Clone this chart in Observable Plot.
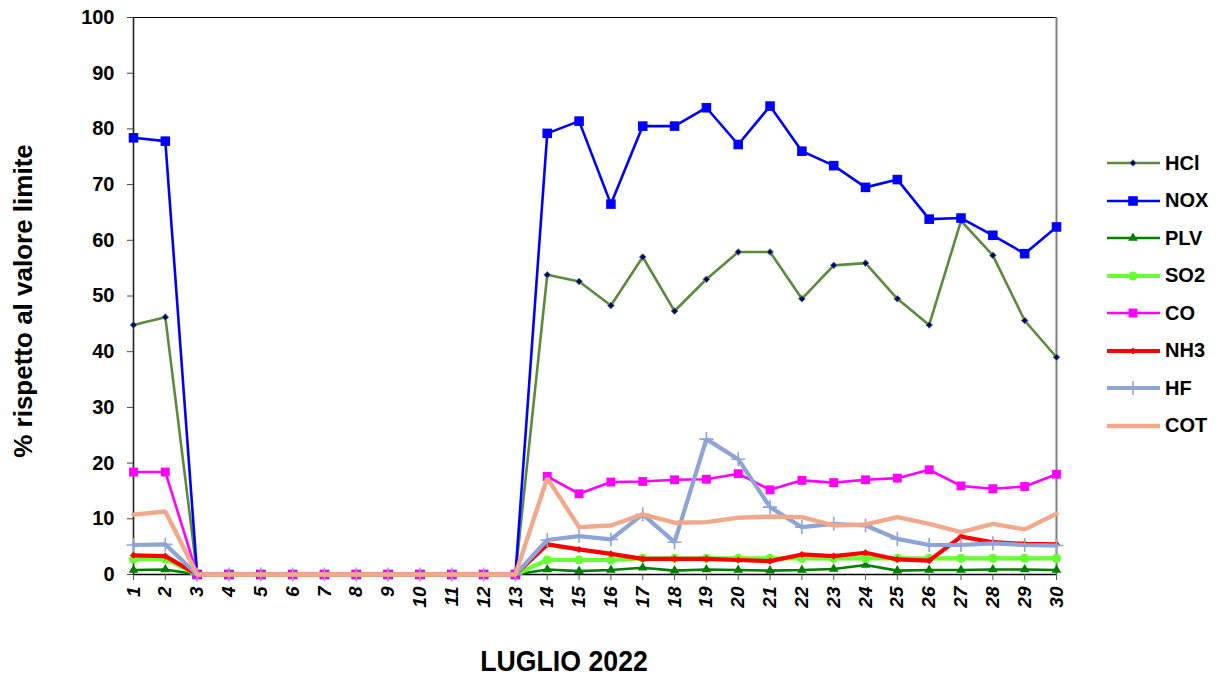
<!DOCTYPE html>
<html>
<head>
<meta charset="utf-8">
<script src="https://cdn.jsdelivr.net/npm/d3@7"></script>
<script src="https://cdn.jsdelivr.net/npm/@observablehq/plot@0.6"></script>
<style>
  html, body { margin: 0; padding: 0; background: #fff; }
  body { font-family: Arial, "Liberation Sans", sans-serif; }
  #wrap { position: relative; width: 1221px; height: 676px; overflow: hidden; }
  #chart { position: absolute; left: 0; top: 0; }
  #chart svg [aria-label="y-axis tick label"] text { font: bold 20px Arial, "Liberation Sans", sans-serif; fill: #000; }
  #chart svg [aria-label="x-axis tick label"] text { font: italic bold 19px Arial, "Liberation Sans", sans-serif; fill: #000; }
  #ytitle { position: absolute; left: 22.5px; top: 301px; transform: translate(-50%, -50%) rotate(-90deg) scaleX(1.04); white-space: nowrap;
            font: bold 25px Arial, "Liberation Sans", sans-serif; color: #000; }
  #xtitle { position: absolute; left: 564px; top: 661px; transform: translate(-50%, -50%) scaleX(0.89); white-space: nowrap;
            font: bold 30px Arial, "Liberation Sans", sans-serif; color: #000; }
  #legend { position: absolute; left: 1107px; top: 144.5px; }
  .lrow { display: flex; align-items: center; height: 37.5px; }
  .lrow svg { display: block; }
  .lrow span { margin-left: 5px; font: bold 20px Arial, "Liberation Sans", sans-serif; color: #000; }
</style>
</head>
<body>
<div id="wrap">
  <div id="chart"></div>
  <div id="ytitle">% rispetto al valore limite</div>
  <div id="xtitle">LUGLIO 2022</div>
  <div id="legend"></div>
</div>
<script>
// ---- data ----
const days = [1,2,3,4,5,6,7,8,9,10,11,12,13,14,15,16,17,18,19,20,21,22,23,24,25,26,27,28,29,30];
const yTicks = [0,10,20,30,40,50,60,70,80,90,100];
const seriesNames = ["HCl","NOX","PLV","SO2","CO","NH3","HF","COT"];

const HCl = [44.8,46.2,0,0,0,0,0,0,0,0,0,0,0,53.8,52.6,48.3,57.0,47.3,53.0,57.9,57.9,49.5,55.5,55.9,49.5,44.8,63.5,57.3,45.6,39.0];
const NOX = [78.4,77.8,0,0,0,0,0,0,0,0,0,0,0,79.2,81.4,66.5,80.5,80.5,83.8,77.2,84.1,76.0,73.4,69.5,70.9,63.8,64.0,60.9,57.6,62.4];
const PLV = [0.8,0.9,0,0,0,0,0,0,0,0,0,0,0,0.9,0.6,0.8,1.2,0.7,0.9,0.8,0.7,0.8,1.0,1.7,0.7,0.8,0.8,0.9,0.9,0.8];
const SO2 = [2.8,2.8,0,0,0,0,0,0,0,0,0,0,0,2.6,2.6,2.6,2.9,2.9,2.9,2.9,2.9,2.9,2.9,2.9,2.9,2.9,2.9,2.9,2.9,2.9];
const CO  = [18.4,18.4,0,0,0,0,0,0,0,0,0,0,0,17.6,14.5,16.6,16.7,17.0,17.1,18.1,15.2,16.9,16.5,17.0,17.3,18.8,15.9,15.4,15.8,18.0];
const NH3 = [3.45,3.3,0,0,0,0,0,0,0,0,0,0,0,5.4,4.5,3.7,2.8,2.8,2.8,2.6,2.4,3.6,3.3,3.9,2.7,2.5,6.8,5.8,5.5,5.4];
const HF  = [5.3,5.4,0,0,0,0,0,0,0,0,0,0,0,6.2,6.9,6.3,10.8,5.8,24.3,20.7,12.1,8.5,9.1,8.8,6.4,5.3,5.3,5.6,5.3,5.2];
const COT = [10.75,11.3,0,0,0,0,0,0,0,0,0,0,0,17.3,8.5,8.8,10.8,9.3,9.4,10.2,10.4,10.3,8.8,9.0,10.3,9.1,7.6,9.1,8.1,10.9];

const seriesValues = [HCl, NOX, PLV, SO2, CO, NH3, HF, COT];

// ---- styles ----
const styles = {
  HCl: {color: "#5b8a3c", width: 2.6, symbol: "diamond2", r: 3.0, fill: "#000080", mstroke: "#5b8a3c", msw: 1},
  NOX: {color: "#0000ff", width: 2.6, symbol: "square", r: 5.4, fill: "#0000ff", mstroke: "none", msw: 0},
  PLV: {color: "#008000", width: 2.6, symbol: "triangle", r: 3.6, fill: "#008000", mstroke: "none", msw: 0},
  SO2: {color: "#66ff33", width: 4.2, symbol: "circle", r: 4.6, fill: "#66ff33", mstroke: "none", msw: 0},
  CO:  {color: "#ff00ff", width: 2.6, symbol: "square", r: 5.0, fill: "#ff00ff", mstroke: "none", msw: 0},
  NH3: {color: "#ff0000", width: 4.2, symbol: "diamond2", r: 3.2, fill: "#ff0000", mstroke: "none", msw: 0},
  HF:  {color: "#8ea4d6", width: 4.2, symbol: "plus", r: 4.6, fill: "none", mstroke: "#8ea4d6", msw: 1.6},
  COT: {color: "#f2a98b", width: 4.4, symbol: null}
};

const marks = [
  Plot.ruleY([100], {stroke: "#000", strokeWidth: 1}),
  Plot.ruleX([30], {stroke: "#808080", strokeWidth: 2}),
  Plot.ruleX([1], {stroke: "#222", strokeWidth: 1.6}),
  Plot.ruleY([0], {stroke: "#000", strokeWidth: 1.5}),
  Plot.axisY({ticks: yTicks, tickSize: 6, tickPadding: 13, label: null, stroke: "#444"}),
  Plot.axisX({ticks: days, tickSize: 6, tickPadding: 6, tickRotate: -90, label: null, stroke: "#555", tickFormat: d => String(d)})
];
seriesNames.forEach((name, k) => {
  const data = days.map((d, i) => ({day: d, v: seriesValues[k][i], s: name}));
  const st = styles[name];
  marks.push(Plot.line(data, {x: "day", y: "v", stroke: st.color, strokeWidth: st.width, strokeLinejoin: "miter"}));
  if (st.symbol) {
    marks.push(Plot.dot(data, {x: "day", y: "v", symbol: st.symbol, r: st.r, fill: st.fill,
      stroke: st.mstroke, strokeWidth: st.msw}));
  }
});

const chart = Plot.plot({
  width: 1221,
  height: 676,
  marginLeft: 133,
  marginRight: 165,
  marginTop: 17,
  marginBottom: 102,
  x: {type: "linear", domain: [1, 30]},
  y: {domain: [0, 100]},
  style: {background: "#fff", overflow: "visible"},
  marks
});
document.getElementById("chart").append(chart);

// ---- legend ----
const symMap = {square: d3.symbolSquare, diamond2: d3.symbolDiamond2, triangle: d3.symbolTriangle, circle: d3.symbolCircle, plus: d3.symbolPlus};
const legend = d3.select("#legend");
seriesNames.forEach(name => {
  const st = styles[name];
  const row = legend.append("div").attr("class", "lrow");
  const svg = row.append("svg").attr("width", 53).attr("height", 20);
  svg.append("line").attr("x1", 0).attr("x2", 53).attr("y1", 10).attr("y2", 10)
    .attr("stroke", st.color).attr("stroke-width", st.width);
  if (st.symbol) {
    svg.append("path").attr("transform", "translate(26,10)")
      .attr("d", d3.symbol(symMap[st.symbol], Math.PI * st.r * st.r)())
      .attr("fill", st.fill).attr("stroke", st.mstroke).attr("stroke-width", st.msw);
  }
  row.append("span").text(name);
});
</script>
</body>
</html>
